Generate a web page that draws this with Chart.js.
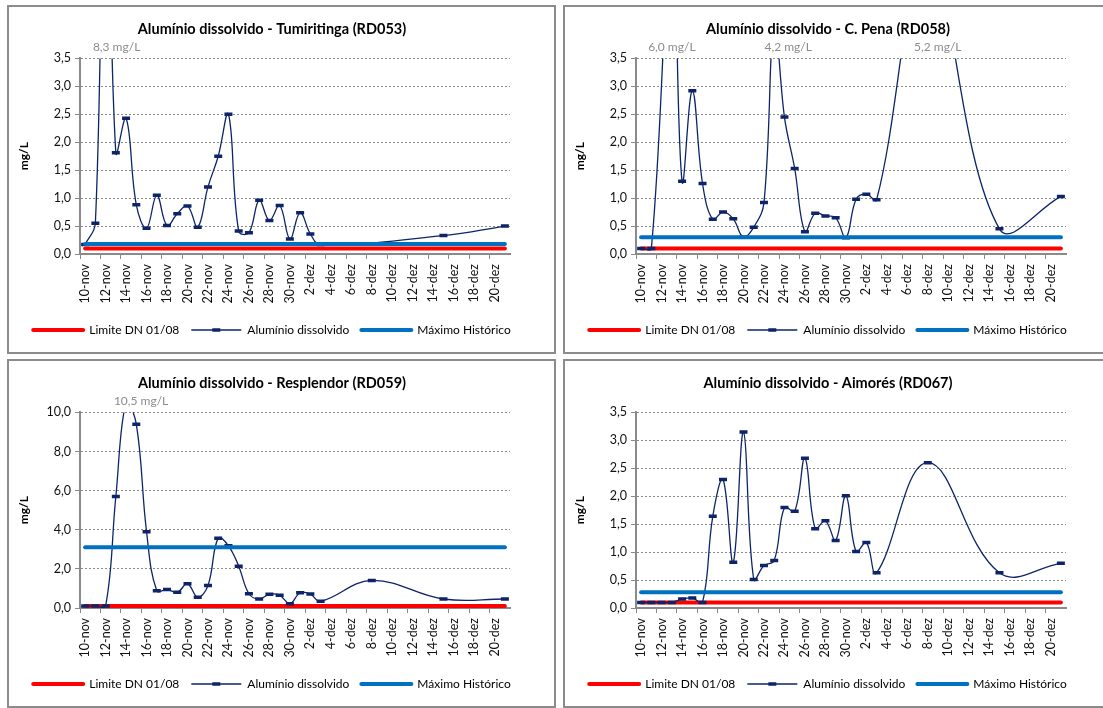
<!DOCTYPE html>
<html>
<head>
<meta charset="utf-8">
<script src="https://cdn.jsdelivr.net/npm/chart.js@4.4.0/dist/chart.umd.min.js"></script>
<style>
  html, body { margin: 0; padding: 0; background: #fff; width: 1103px; height: 708px; overflow: hidden; }
  .panel { position: absolute; width: 549px; height: 349px; border: 2px solid #8c8c8c; box-sizing: border-box; background: #fff; }
  .panel canvas { position: absolute; left: 0; top: 0; }
</style>
</head>
<body>
<div class="panel" style="left:7px;top:5px"><canvas id="c1" width="545" height="345"></canvas></div>
<div class="panel" style="left:563px;top:5px"><canvas id="c2" width="545" height="345"></canvas></div>
<div class="panel" style="left:7px;top:359px"><canvas id="c3" width="545" height="345"></canvas></div>
<div class="panel" style="left:563px;top:359px"><canvas id="c4" width="545" height="345"></canvas></div>
<script>
'use strict';

// Daily category axis, 10-nov .. 21-dez
var dates = [
  '10-nov', '11-nov', '12-nov', '13-nov', '14-nov', '15-nov', '16-nov', '17-nov', '18-nov', '19-nov',
  '20-nov', '21-nov', '22-nov', '23-nov', '24-nov', '25-nov', '26-nov', '27-nov', '28-nov', '29-nov',
  '30-nov', '1-dez', '2-dez', '3-dez', '4-dez', '5-dez', '6-dez', '7-dez', '8-dez', '9-dez',
  '10-dez', '11-dez', '12-dez', '13-dez', '14-dez', '15-dez', '16-dez', '17-dez', '18-dez', '19-dez',
  '20-dez', '21-dez'
];

// Tumiritinga (RD053)
var tumDays = ['10-nov', '11-nov', '12-nov', '13-nov', '14-nov', '15-nov', '16-nov', '17-nov', '18-nov', '19-nov',
  '20-nov', '21-nov', '22-nov', '23-nov', '24-nov', '25-nov', '26-nov', '27-nov', '28-nov', '29-nov',
  '30-nov', '1-dez', '2-dez', '3-dez', '15-dez', '21-dez'];
var tumValues = [0.17, 0.55, 8.3, 1.81, 2.43, 0.88, 0.46, 1.05, 0.51, 0.72,
  0.86, 0.48, 1.2, 1.75, 2.5, 0.41, 0.38, 0.96, 0.6, 0.87,
  0.27, 0.74, 0.36, 0.17, 0.33, 0.5];
var tumPeaks = ['12-nov'];

// C. Pena (RD058)
var penaDays = ['10-nov', '11-nov', '13-nov', '14-nov', '15-nov', '16-nov', '17-nov', '18-nov', '19-nov',
  '20-nov', '21-nov', '22-nov', '23-nov', '24-nov', '25-nov', '26-nov', '27-nov', '28-nov', '29-nov',
  '30-nov', '1-dez', '2-dez', '3-dez', '8-dez', '15-dez', '21-dez'];
var penaValues = [0.1, 0.1, 6.0, 1.3, 2.92, 1.26, 0.62, 0.75, 0.63,
  0.3, 0.48, 0.92, 4.2, 2.45, 1.53, 0.4, 0.73, 0.68, 0.65,
  0.29, 0.98, 1.07, 0.97, 5.2, 0.45, 1.03];
var penaPeaks = ['13-nov', '23-nov', '8-dez'];

// Resplendor (RD059)
var respDays = ['10-nov', '11-nov', '12-nov', '13-nov', '14-nov', '15-nov', '16-nov', '17-nov', '18-nov', '19-nov',
  '20-nov', '21-nov', '22-nov', '23-nov', '24-nov', '25-nov', '26-nov', '27-nov', '28-nov', '29-nov',
  '30-nov', '1-dez', '2-dez', '3-dez', '8-dez', '15-dez', '21-dez'];
var respValues = [0.1, 0.1, 0.1, 5.7, 10.5, 9.4, 3.9, 0.88, 0.95, 0.8,
  1.24, 0.55, 1.15, 3.57, 3.18, 2.14, 0.73, 0.46, 0.7, 0.65,
  0.22, 0.78, 0.71, 0.34, 1.41, 0.46, 0.46];
var respPeaks = ['14-nov'];

// Aimorés (RD067)
var aimDays = ['10-nov', '11-nov', '12-nov', '13-nov', '14-nov', '15-nov', '16-nov', '17-nov', '18-nov', '19-nov',
  '20-nov', '21-nov', '22-nov', '23-nov', '24-nov', '25-nov', '26-nov', '27-nov', '28-nov', '29-nov',
  '30-nov', '1-dez', '2-dez', '3-dez', '8-dez', '15-dez', '21-dez'];
var aimValues = [0.1, 0.1, 0.1, 0.1, 0.16, 0.18, 0.1, 1.64, 2.3, 0.82,
  3.15, 0.51, 0.76, 0.85, 1.8, 1.73, 2.68, 1.42, 1.56, 1.21,
  2.01, 1.01, 1.17, 0.63, 2.6, 0.63, 0.8];
var aimPeaks = [];

// Reference lines: [Limite DN 01/08, Máximo Histórico]
var tumRefs = [0.1, 0.18];
var penaRefs = [0.1, 0.3];
var respRefs = [0.1, 3.1];
var aimRefs = [0.1, 0.28];

var NAVY = '#0d2468';
var RED = '#ff0000';
var BLUE = '#0070c0';
var GRAY = '#8a8a8a';
var FONT = 'Lato, "Open Sans", sans-serif';

Chart.defaults.font.family = FONT;
Chart.defaults.color = '#111';

function comma(v) {
  return v.toFixed(1).replace('.', ',');
}

// Grey value notes above the plot for points that run off the top of the scale
var peakNotes = {
  id: 'peakNotes',
  afterDatasetsDraw: function(chart, args, opts) {
    var ctx = chart.ctx;
    var x = chart.scales.x;
    var ds = chart.data.datasets[1].data;
    ctx.save();
    ctx.font = '12px ' + FONT;
    ctx.fillStyle = '#8c8c8c';
    ctx.textAlign = 'center';
    ctx.textBaseline = 'middle';
    (opts.days || []).forEach(function(day, i) {
      var pt = ds.find(function(p) { return p.x === day; });
      var dx = (opts.dx && opts.dx[i]) || 0;
      ctx.fillText(comma(pt.y) + ' mg/L', x.getPixelForValue(dates.indexOf(day)) + dx, chart.chartArea.top - 11);
    });
    ctx.restore();
  }
};

// Dash marker on the middle legend entry, like the series marker
var legendMarker = {
  id: 'legendMarker',
  afterDraw: function(chart) {
    var legend = chart.legend;
    if (!legend || !legend.legendHitBoxes) return;
    legend.legendItems.forEach(function(item, i) {
      if (item.datasetIndex !== 1) return;
      var box = legend.legendHitBoxes[i];
      var ctx = chart.ctx;
      var fs = legend.options.labels.font.size;
      ctx.save();
      ctx.strokeStyle = NAVY;
      ctx.lineWidth = 3.5;
      ctx.beginPath();
      ctx.moveTo(box.left + 25 - 4, box.top + fs / 2);
      ctx.lineTo(box.left + 25 + 4, box.top + fs / 2);
      ctx.stroke();
      ctx.restore();
    });
  }
};

function makeChart(id, title, days, values, refs, yMax, yStep, peaks, peakDx) {
  var series = days.map(function(d, i) { return { x: d, y: values[i] }; });

  new Chart(document.getElementById(id), {
    type: 'line',
    data: {
      labels: dates,
      datasets: [
        {
          label: 'Limite DN 01/08',
          data: dates.map(function() { return refs[0]; }),
          borderColor: RED,
          borderWidth: 4,
          borderCapStyle: 'round',
          pointStyle: 'line',
          pointRadius: 0,
          pointBorderWidth: 4,
          pointBorderColor: RED,
          tension: 0,
          order: 3
        },
        {
          label: 'Alumínio dissolvido',
          data: series,
          borderColor: NAVY,
          borderWidth: 1.3,
          pointStyle: 'line',
          pointRadius: 4,
          pointBorderWidth: 3.5,
          pointBorderColor: NAVY,
          tension: 0.4,
          order: 2
        },
        {
          label: 'Máximo Histórico',
          data: dates.map(function() { return refs[1]; }),
          borderColor: BLUE,
          borderWidth: 4,
          borderCapStyle: 'round',
          pointStyle: 'line',
          pointRadius: 0,
          pointBorderWidth: 4,
          pointBorderColor: BLUE,
          tension: 0,
          order: 1
        }
      ]
    },
    options: {
      responsive: false,
      animation: false,
      events: [],
      layout: { padding: { left: 0, right: 19, top: 0, bottom: 6 } },
      elements: { line: { capBezierPoints: false } },
      scales: {
        x: {
          type: 'category',
          offset: true,
          grid: {
            offset: true,
            drawOnChartArea: false,
            drawTicks: true,
            tickLength: 5,
            color: function(ctx) { return ctx.index % 2 === 0 ? GRAY : 'rgba(0,0,0,0)'; }
          },
          border: { display: true, color: GRAY, width: 2 },
          ticks: {
            autoSkip: false,
            maxRotation: 90,
            minRotation: 90,
            padding: 5,
            font: { size: 12.5 },
            color: '#111',
            callback: function(v, i) { return i % 2 === 0 ? dates[i] : ''; }
          },
          afterFit: function(s) { s.height = 58; }
        },
        y: {
          min: 0,
          max: yMax,
          grid: {
            color: GRAY,
            lineWidth: 1,
            tickLength: 5,
            tickColor: GRAY,
            tickBorderDash: []
          },
          border: { display: true, color: GRAY, width: 2, dash: [2, 2] },
          ticks: {
            stepSize: yStep,
            padding: 4,
            font: { size: 12.5 },
            color: '#111',
            callback: function(v) { return comma(v); }
          },
          title: {
            display: true,
            text: 'mg/L',
            font: { size: 12, weight: 'bold' },
            color: '#000',
            padding: { top: 8, bottom: 0 }
          },
          afterFit: function(s) { s.width = 71; }
        },
        yR: {
          position: 'right',
          display: true,
          grid: { display: false },
          border: { display: false },
          ticks: { display: false },
          afterFit: function(s) { s.width = 25; }
        }
      },
      plugins: {
        title: {
          display: true,
          text: title,
          color: '#000',
          font: { size: 14.5, weight: 'bold' },
          padding: { top: 14, bottom: 20 }
        },
        legend: {
          position: 'bottom',
          labels: {
            usePointStyle: true,
            pointStyleWidth: 50,
            padding: 12,
            color: '#000',
            font: { size: 12 },
            sort: function(a, b) { return a.datasetIndex - b.datasetIndex; },
            generateLabels: function(chart) {
              var items = Chart.defaults.plugins.legend.labels.generateLabels(chart);
              items.forEach(function(it) {
                it.lineCap = 'round';
                if (it.datasetIndex === 1) { it.lineWidth = 1.3; it.lineCap = 'butt'; }
              });
              return items;
            }
          }
        },
        tooltip: { enabled: false },
        peakNotes: { days: peaks, dx: peakDx }
      }
    },
    plugins: [peakNotes, legendMarker]
  });
}

makeChart('c1', 'Alumínio dissolvido - Tumiritinga (RD053)', tumDays, tumValues, tumRefs, 3.5, 0.5, tumPeaks, [11]);
makeChart('c2', 'Alumínio dissolvido - C. Pena (RD058)', penaDays, penaValues, penaRefs, 3.5, 0.5, penaPeaks, [0, 14, 10]);
makeChart('c3', 'Alumínio dissolvido - Resplendor (RD059)', respDays, respValues, respRefs, 10, 2, respPeaks, [15]);
makeChart('c4', 'Alumínio dissolvido - Aimorés (RD067)', aimDays, aimValues, aimRefs, 3.5, 0.5, aimPeaks, []);
</script>
</body>
</html>
